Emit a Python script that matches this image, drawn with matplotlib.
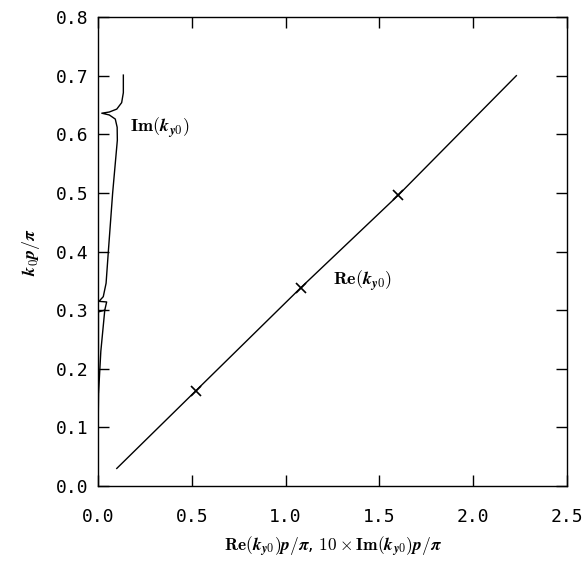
import matplotlib
matplotlib.use("Agg")
import matplotlib.pyplot as plt

plt.rcParams['mathtext.fontset'] = 'cm'

# Re(k_y0) p/pi against k0 p/pi
re_x = [0.10, 0.52, 1.08, 1.60, 2.23]
re_y = [0.030, 0.162, 0.338, 0.496, 0.700]

# marked points on the Re curve
mark_x = [0.52, 1.08, 1.60]
mark_y = [0.162, 0.338, 0.496]

# 10 x Im(k_y0) p/pi against k0 p/pi (top to bottom)
im_x = [0.135, 0.135, 0.126, 0.100, 0.060, 0.020, 0.060, 0.092, 0.102, 0.103, 0.078,
        0.055, 0.043, 0.028, 0.005, 0.046, 0.036, 0.015, 0.003, 0.000]
im_y = [0.701, 0.671, 0.654, 0.643, 0.638, 0.636, 0.633, 0.626, 0.612, 0.590, 0.500,
        0.400, 0.346, 0.323, 0.315, 0.314, 0.300, 0.230, 0.160, 0.090]
im_loop_x = [0.036, 0.002, 0.002]
im_loop_y = [0.300, 0.297, 0.160]

xticks = [0.0, 0.5, 1.0, 1.5, 2.0, 2.5]
yticks = [0.0, 0.1, 0.2, 0.3, 0.4, 0.5, 0.6, 0.7, 0.8]

kyo = r'\mathbfit{k}_{\mathbfit{y}\mathbf{0}}'
pp = r'\mathbfit{p}/\boldsymbol{\pi}'

fig = plt.figure(figsize=(5.88, 5.65), dpi=100)
ax = fig.add_axes([0.1667, 0.1398, 0.7976, 0.830])

ax.plot(re_x, re_y, color='black', lw=1.0)
ax.plot(mark_x, mark_y, 'x', color='black', ms=7, mew=1.2)
ax.plot(im_x, im_y, color='black', lw=1.0)
ax.plot(im_loop_x, im_loop_y, color='black', lw=1.0)

ax.set_xlim(0, 2.5)
ax.set_ylim(0, 0.8)
ax.set_xticks(xticks)
ax.set_yticks(yticks)
ax.set_xticklabels(["%.1f" % v for v in xticks], family='DejaVu Sans Mono', fontsize=13)
ax.set_yticklabels(["%.1f" % v for v in yticks], family='DejaVu Sans Mono', fontsize=13)
ax.tick_params(direction='in', length=8, width=1, top=True, right=True, pad=7)
ax.tick_params(axis='x', pad=16)
for s in ax.spines.values():
    s.set_linewidth(1.0)

ax.text(0.17, 0.611, r'$\mathbf{Im}(' + kyo + ')$', fontsize=13, va='center')
ax.text(1.25, 0.35, r'$\mathbf{Re}(' + kyo + ')$', fontsize=13, va='center')

ax.set_xlabel(r'$\mathbf{Re}(' + kyo + ')' + pp + r'$, $\mathbf{10}\times\mathbf{Im}(' + kyo + ')' + pp + '$',
              fontsize=12.5, labelpad=6)
ax.set_ylabel(r'$\mathbfit{k}_\mathbf{0}' + pp + '$', fontsize=13, labelpad=10)

fig.savefig("out.png", dpi=100)
